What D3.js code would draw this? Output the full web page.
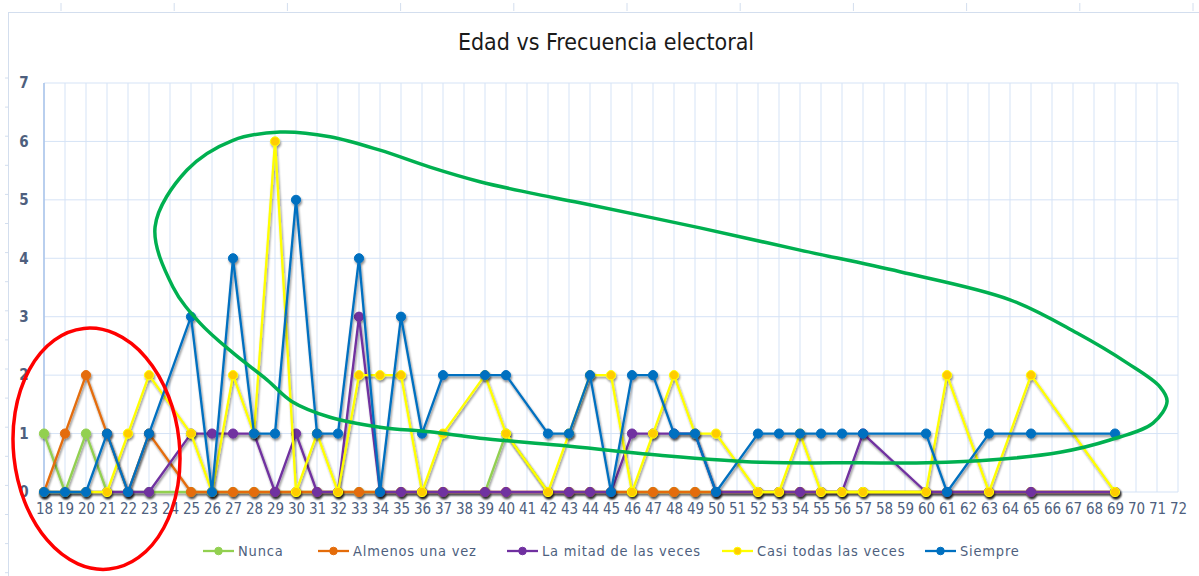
<!DOCTYPE html>
<html>
<head>
<meta charset="utf-8">
<script src="https://cdn.jsdelivr.net/npm/d3@7"></script>
<style>
  body { margin: 0; background: #fff; }
  svg { display: block; font-family: "Liberation Sans Narrow", "DejaVu Sans Condensed", "Arial Narrow", sans-serif; }
</style>
</head>
<body>
<script>
// categories on the axis (every age), and the ages that actually have data
var axisAges = d3.range(18, 73);
var ages = [18,19,20,21,22,23,25,26,27,28,29,30,31,32,33,34,35,36,37,39,40,42,43,44,45,46,47,48,49,50,52,53,54,55,56,57,60,61,63,65,69];

var nunca    = [1,0,1,0,0,0,0,0,0,0,0,0,0,0,0,0,0,0,0,0,1,0,0,0,0,0,0,0,0,0,0,0,0,0,0,0,0,0,0,0,0];
var almenos  = [0,1,2,1,0,1,0,0,0,0,0,0,0,0,0,0,0,0,0,0,0,0,0,0,0,0,0,0,0,0,0,0,0,0,0,0,0,0,0,0,0];
var mitad    = [0,0,0,0,0,0,1,1,1,1,0,1,0,0,3,0,0,0,0,0,0,0,0,0,0,1,1,1,1,0,0,0,0,0,0,1,0,0,0,0,0];
var casi     = [0,0,0,0,1,2,1,0,2,1,6,0,1,0,2,2,2,0,1,2,1,0,1,2,2,0,1,2,1,1,0,0,1,0,0,0,0,2,0,2,0];
var siempre  = [0,0,0,1,0,1,3,0,4,1,1,5,1,1,4,0,3,1,2,2,2,1,1,2,0,2,2,1,1,0,1,1,1,1,1,1,1,0,1,1,1];

var seriesNames = ["Nunca", "Almenos una vez", "La mitad de las veces", "Casi todas las veces", "Siempre"];
var yTicks = [0,1,2,3,4,5,6,7];

var width = 1199, height = 576;
var lineColors = ["#92D050", "#E46C0A", "#7030A0", "#FFFF00", "#0070C0"];
var markColors = ["#92D050", "#E46C0A", "#7030A0", "#FFCC00", "#0070C0"];

var svg = d3.select("body").append("svg")
    .attr("width", width)
    .attr("height", height);

// soft shadow like the excel markers
var defs = svg.append("defs");
var f = defs.append("filter").attr("id", "shadow")
    .attr("x", "-20%").attr("y", "-20%").attr("width", "140%").attr("height", "140%");
f.append("feDropShadow").attr("dx", 1).attr("dy", 2).attr("stdDeviation", 1.3)
    .attr("flood-color", "#000").attr("flood-opacity", 0.45);

// outer frame with ruler ticks
var frame = svg.append("g").attr("stroke", "#D3DEEE").attr("stroke-width", 1);
frame.append("line").attr("x1", 8).attr("x2", width).attr("y1", 12.5).attr("y2", 12.5);
frame.append("line").attr("x1", 8.5).attr("x2", 8.5).attr("y1", 12).attr("y2", height);
d3.range(61, width, 113.2).forEach(function(x) {
    frame.append("line").attr("x1", x).attr("x2", x).attr("y1", 3).attr("y2", 11);
});
d3.range(78, height, 29.1).forEach(function(y) {
    frame.append("line").attr("x1", 5).attr("x2", 8).attr("y1", y).attr("y2", y);
});

var x = d3.scalePoint().domain(axisAges).range([44, 1178]);
var y = d3.scaleLinear().domain([0, 7]).range([492, 83]);

// title
svg.append("text")
    .attr("x", 606).attr("y", 50)
    .attr("text-anchor", "middle")
    .attr("font-size", 23)
    .attr("fill", "#1a1a1a")
    .text("Edad vs Frecuencia electoral");

// grid
var grid = svg.append("g");
grid.selectAll(".vg").data(axisAges).enter().append("line")
    .attr("x1", function(d) { return x(d); })
    .attr("x2", function(d) { return x(d); })
    .attr("y1", y(7)).attr("y2", y(0))
    .attr("stroke", "#D5E3F6").attr("stroke-width", 1);
grid.selectAll(".hg").data(yTicks).enter().append("line")
    .attr("x1", x(18)).attr("x2", x(72))
    .attr("y1", function(d) { return y(d); })
    .attr("y2", function(d) { return y(d); })
    .attr("stroke", "#D5E3F6").attr("stroke-width", 1);
grid.append("line")
    .attr("x1", x(18)).attr("x2", x(18))
    .attr("y1", y(7)).attr("y2", y(0))
    .attr("stroke", "#A8C3EA").attr("stroke-width", 1.5);

// axes, drawn with d3 then restyled
var yAxis = svg.append("g")
    .attr("transform", "translate(" + 30 + ",0)")
    .call(d3.axisLeft(y).tickValues(yTicks).tickFormat(d3.format("d")).tickSize(0).tickPadding(0))
    .attr("font-family", null)
    .attr("font-size", null);
yAxis.select(".domain").remove();
yAxis.selectAll("text")
    .attr("text-anchor", "middle")
    .attr("x", -6)
    .attr("font-size", 15)
    .attr("font-weight", "bold")
    .attr("fill", "#4E5F7E");

var xAxis = svg.append("g")
    .attr("transform", "translate(0," + 503 + ")")
    .call(d3.axisBottom(x).tickSize(0).tickPadding(0))
    .attr("font-family", null)
    .attr("font-size", null);
xAxis.select(".domain").remove();
xAxis.selectAll("text")
    .attr("font-size", 15)
    .attr("fill", "#4E5F7E");

// series
var allValues = [nunca, almenos, mitad, casi, siempre];
var line = d3.line()
    .x(function(d) { return x(d.age); })
    .y(function(d) { return y(d.v); });

allValues.forEach(function(vals, i) {
    var pts = ages.map(function(a, j) { return { age: a, v: vals[j] }; });
    var g = svg.append("g").attr("filter", "url(#shadow)");
    g.append("path")
        .datum(pts)
        .attr("d", line)
        .attr("fill", "none")
        .attr("stroke", lineColors[i])
        .attr("stroke-width", 2.3)
        .attr("stroke-linejoin", "round");
    g.selectAll("circle").data(pts).enter().append("circle")
        .attr("cx", function(d) { return x(d.age); })
        .attr("cy", function(d) { return y(d.v); })
        .attr("r", 4.6)
        .attr("fill", markColors[i])
        .attr("stroke", lineColors[i])
        .attr("stroke-width", 1);
});

// legend
var legendX = [203, 318, 507, 722, 925];
var legend = svg.append("g").attr("transform", "translate(0,551)");
seriesNames.forEach(function(name, i) {
    var lg = legend.append("g").attr("transform", "translate(" + legendX[i] + ",0)");
    lg.append("line").attr("x1", 0).attr("x2", 31).attr("y1", 0).attr("y2", 0)
        .attr("stroke", lineColors[i]).attr("stroke-width", 2.3);
    lg.append("circle").attr("cx", 15.5).attr("cy", 0).attr("r", 3.8)
        .attr("fill", markColors[i]).attr("stroke", lineColors[i]);
    lg.append("text").attr("x", 35).attr("y", 5)
        .attr("font-size", 14.5)
        .attr("letter-spacing", 0.8)
        .attr("fill", "#4E5F7E")
        .text(name);
});

// hand-drawn annotations (in data units so they follow the scales)
var redCx = x(20) + 0.5 * x.step(), redCy = y(0.74);
svg.append("ellipse")
    .attr("transform", "translate(" + redCx + "," + redCy + ") rotate(-6)")
    .attr("rx", 83).attr("ry", 121)
    .attr("fill", "none")
    .attr("stroke", "#FF0000")
    .attr("stroke-width", 3.5);

var loop = [
    [23.29,4.54],[24.81,5.51],[27.0,6.02],[29.24,6.16],[31.62,6.08],[34.0,5.85],[36.38,5.56],
    [38.76,5.31],[41.14,5.12],[43.52,4.95],[49.24,4.52],[54.0,4.14],[58.76,3.77],[64.0,3.29],
    [67.19,2.72],[69.57,2.21],[71.14,1.80],[71.48,1.55],[70.81,1.18],[68.76,0.89],[66.38,0.68],
    [63.19,0.55],[60.05,0.50],[56.86,0.50],[52.1,0.51],[47.33,0.63],[42.57,0.80],[38.76,0.92],
    [36.38,1.03],[34.0,1.11],[31.62,1.28],[29.8,1.55],[28.62,1.92],[27.0,2.38],[25.43,2.89],[24.14,3.51]
];
var ageToPx = function(a) { return x(18) + (a - 18) * x.step(); };
svg.append("path")
    .datum(loop)
    .attr("d", d3.line()
        .x(function(d) { return ageToPx(d[0]); })
        .y(function(d) { return y(d[1]); })
        .curve(d3.curveCatmullRomClosed.alpha(0.5)))
    .attr("fill", "none")
    .attr("stroke", "#00B050")
    .attr("stroke-width", 3.5);
</script>
</body>
</html>
